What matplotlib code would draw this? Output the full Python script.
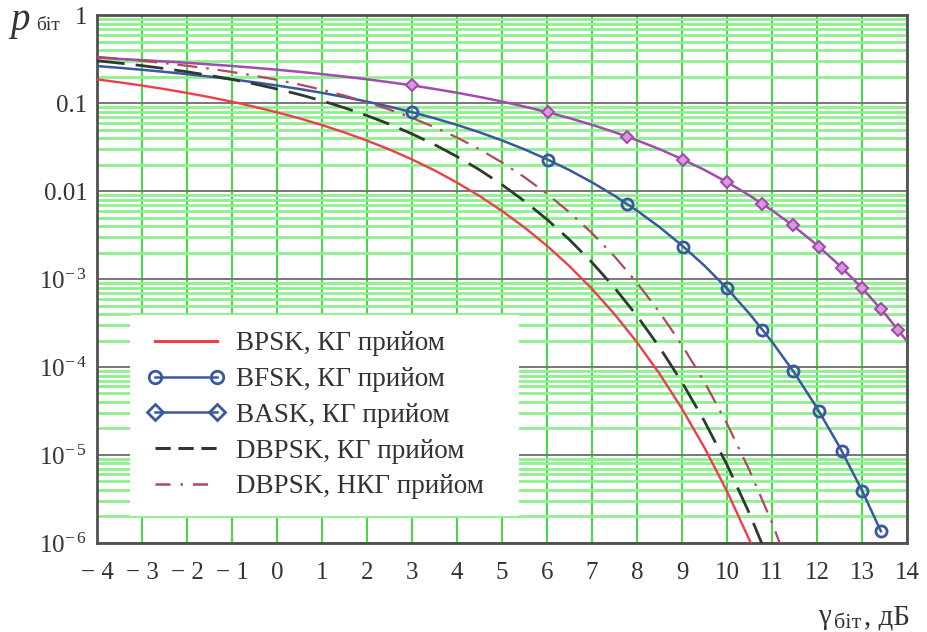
import matplotlib
matplotlib.use('Agg')
import matplotlib.pyplot as plt
from matplotlib.lines import Line2D
from matplotlib.ticker import FixedLocator, LogLocator, NullFormatter

plt.rcParams['font.family'] = ['Liberation Serif', 'DejaVu Serif']
plt.rcParams['mathtext.fontset'] = 'custom'
plt.rcParams['mathtext.rm'] = 'Liberation Serif'

# SNR grid, dB
snr_db = [-4 + 0.5 * i for i in range(37)]

# values
bpsk_p = [0.1862, 0.1723, 0.1584, 0.1445, 0.1306, 0.1170, 0.1038, 0.0909, 0.0786,
          0.0671, 0.0563, 0.0464, 0.0375, 0.0297, 0.0229, 0.0172, 0.0125, 0.0088,
          0.00595, 0.00386, 0.00239, 0.0014, 0.000773, 0.000399, 0.000191, 8.4e-5,
          3.36e-5, 1.21e-5, 3.87e-6, 1.08e-6, 2.6e-7]
bfsk_p = [0.264, 0.252, 0.2395, 0.2266, 0.2135, 0.2001, 0.1864, 0.1726, 0.1587,
          0.1447, 0.1309, 0.1173, 0.1040, 0.0912, 0.0789, 0.0673, 0.0565, 0.0466,
          0.0377, 0.0298, 0.0230, 0.0173, 0.01259, 0.00886, 0.00600, 0.00390,
          0.00241, 0.00142, 0.000783, 0.000404, 0.000194, 8.56e-5, 3.43e-5,
          1.24e-5, 3.97e-6]
bask_p = [0.3277, 0.3182, 0.3083, 0.2980, 0.2872, 0.2759, 0.2643, 0.2522, 0.2398,
          0.2269, 0.2138, 0.2003, 0.1867, 0.1729, 0.1590, 0.1450, 0.1312, 0.1176,
          0.1043, 0.0914, 0.0791, 0.0675, 0.0567, 0.0468, 0.0378, 0.0300, 0.0231,
          0.0174, 0.01267, 0.00893, 0.00605, 0.00393, 0.00244, 0.00143, 0.000793,
          0.000410, 0.000197]
dbpsk_kg_p = [0.3031, 0.2852, 0.2666, 0.2472, 0.2271, 0.2066, 0.1861, 0.1653, 0.1448,
              0.1252, 0.1063, 0.0885, 0.0722, 0.0576, 0.0447, 0.0338, 0.0247, 0.01745,
              0.01183, 0.00769, 0.00477, 0.0028, 0.001545, 0.000798, 0.000382, 1.68e-4,
              6.72e-5, 2.42e-5, 7.74e-6, 2.16e-6, 5.2e-7]
dbpsk_nkg_p = [0.3358, 0.3199, 0.3029, 0.2849, 0.2660, 0.2464, 0.2260, 0.2051, 0.1839,
               0.1628, 0.1420, 0.1217, 0.1025, 0.0845, 0.0680, 0.0533, 0.0406, 0.0299,
               0.02116, 0.01439, 0.00933, 0.00574, 0.00333, 0.00181, 0.000909, 0.000421,
               0.000178, 6.73e-5, 2.27e-5, 6.7e-6, 1.70e-6, 3.65e-7]

# marker points
mark_db = [3.01, 6.02, 7.78, 9.03, 10.0, 10.79, 11.46, 12.04, 12.55, 13.01, 13.42, 13.80]
bfsk_mark_p = [0.0786, 0.02275, 0.00716, 0.00234, 7.83e-4, 2.66e-4, 9.1e-5, 3.17e-5,
               1.1e-5, 3.87e-6, 1.36e-6]
bask_mark_p = [0.1587, 0.0786, 0.0416, 0.02275, 0.01267, 0.00716, 0.00408, 0.00234,
               0.00135, 7.83e-4, 4.55e-4, 2.66e-4]

x_ticks = list(range(-4, 15))
x_labels = ['\u2212 4', '\u2212 3', '\u2212 2', '\u2212 1'] + [str(v) for v in range(0, 15)]
y_ticks = [1e-6, 1e-5, 1e-4, 1e-3, 0.01, 0.1, 1]
y_labels = [r'$\mathregular{10^{-\,6}}$', r'$\mathregular{10^{-\,5}}$',
            r'$\mathregular{10^{-\,4}}$', r'$\mathregular{10^{-\,3}}$', '0.01', '0.1', '1']
labels = ['BPSK, КГ прийом', 'BFSK, КГ прийом', 'BASK, КГ прийом',
          'DBPSK, КГ прийом', 'DBPSK, НКГ прийом']

c_bpsk = '#ee3e4c'
c_bfsk = '#3a58a0'
c_bask = '#a24aae'
c_dk = '#2e3a30'
c_nk = '#b04860'
txt = '#333333'

fig = plt.figure(figsize=(9.28, 6.32), dpi=100)
ax = fig.add_axes([0.1045, 0.141, 0.8728, 0.835])

ax.plot(snr_db[:len(bpsk_p)], bpsk_p, color=c_bpsk, lw=1.7, zorder=3)
ax.plot(snr_db[:len(bfsk_p)] + [mark_db[10]], bfsk_p + [bfsk_mark_p[-1]],
        color=c_bfsk, lw=1.8, zorder=3)
ax.plot(mark_db[:11], bfsk_mark_p, 'o', ms=8, mfc='none', mec=c_bfsk, mew=2, zorder=4)
ax.plot(snr_db[:len(bask_p)], bask_p, color=c_bask, lw=1.8, zorder=3)
ax.plot(mark_db, bask_mark_p, 'D', ms=6.5, mfc='#d89ad8', mec=c_bask, mew=1.5, zorder=4)
ax.plot(snr_db[:len(dbpsk_kg_p)], dbpsk_kg_p, color=c_dk, lw=2, dashes=(10, 4), zorder=3)
ax.plot(snr_db[:len(dbpsk_nkg_p)], dbpsk_nkg_p, color=c_nk, lw=1.6,
        dashes=(9, 4, 1.2, 4), zorder=3)

ax.set_yscale('log')
ax.set_xlim(-4, 14)
ax.set_ylim(1e-6, 1)
ax.xaxis.set_major_locator(FixedLocator(x_ticks))
ax.set_xticklabels(x_labels)
ax.yaxis.set_major_locator(FixedLocator(y_ticks))
ax.set_yticklabels(y_labels)
ax.yaxis.set_minor_locator(LogLocator(base=10, subs=[2, 3, 4, 5, 6, 7, 8, 9], numticks=20))
ax.yaxis.set_minor_formatter(NullFormatter())
ax.tick_params(axis='x', which='both', length=0, pad=14, labelsize=18, colors=txt)
ax.tick_params(axis='y', which='both', length=0, pad=7, labelsize=18, colors=txt)

ax.set_axisbelow(True)
ax.grid(axis='y', which='minor', color='#8ef08e', lw=2)
ax.grid(axis='x', which='major', color='#3fdc3f', lw=1.4)
ax.grid(axis='y', which='major', color='#777777', lw=1.4)
for s in ax.spines.values():
    s.set_color('#505050')
    s.set_linewidth(2)

handles = [
    Line2D([], [], color=c_bpsk, lw=2.2),
    Line2D([], [], color=c_bfsk, lw=1.8, marker='o', ms=9, mfc='none', mew=2),
    Line2D([], [], color=c_bfsk, lw=1.8, marker='D', ms=8, mfc='none', mew=2),
    Line2D([], [], color=c_dk, lw=2.2, dashes=(5, 2.5)),
    Line2D([], [], color=c_nk, lw=1.8, dashes=(6, 4, 1, 4)),
]
leg = ax.legend(handles, labels, loc='upper left', bbox_to_anchor=(0.041, 0.432, 0.48, 0.0),
                mode='expand', numpoints=2, fontsize=19.5, handlelength=2.9,
                handletextpad=0.4, labelspacing=0.4, borderpad=0.6,
                frameon=True, fancybox=False, framealpha=1, borderaxespad=0)
leg.get_frame().set_facecolor('white')
leg.get_frame().set_edgecolor('none')
for t in leg.get_texts():
    t.set_color(txt)

# axis titles
fig.text(10 / 928, 1 - 30 / 632, 'p', fontsize=28, style='italic', color=txt)
fig.text(36 / 928, 1 - 30 / 632, 'біт', fontsize=14, color=txt)
fig.text(818 / 928, 1 - 624 / 632, 'γ', fontsize=21, color=txt)
fig.text(834 / 928, 1 - 628 / 632, 'біт', fontsize=16, color=txt)
fig.text(864 / 928, 1 - 624 / 632, ', дБ', fontsize=21, color=txt)

fig.savefig('out.png', dpi=100)
